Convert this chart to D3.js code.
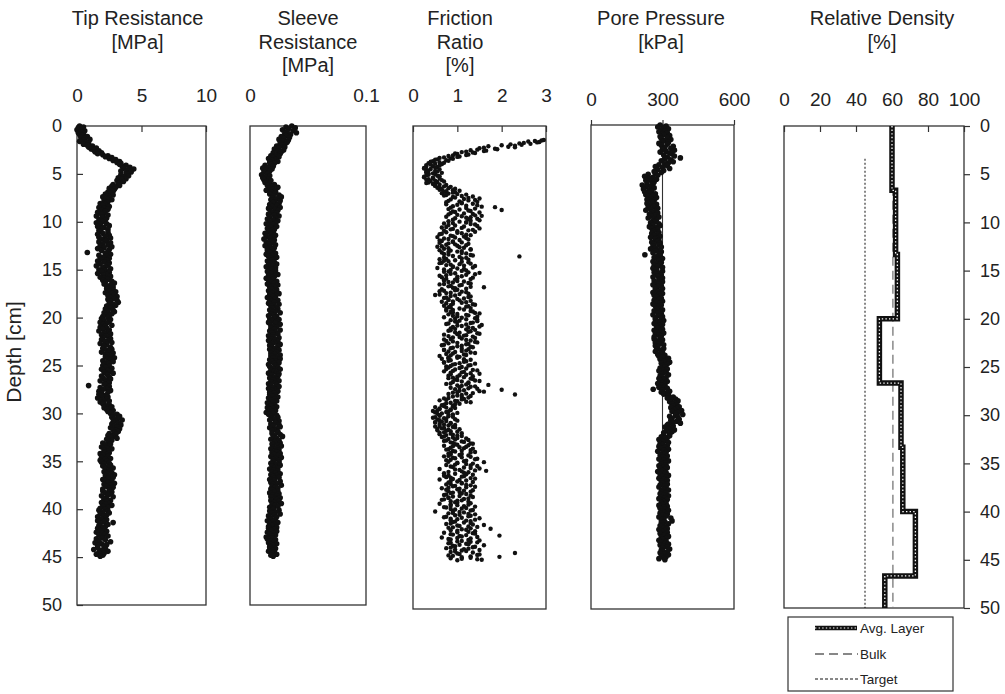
<!DOCTYPE html>
<html>
<head>
<meta charset="utf-8">
<script src="https://cdn.jsdelivr.net/npm/d3@7"></script>
<style>
  html, body { margin: 0; padding: 0; background: #fff; }
  svg { display: block; }
</style>
</head>
<body>
<svg id="chart" width="1005" height="694"></svg>
<script>
// ---- CPT readings (one row per cm of depth) ----
const depthStep = 0.1;      // tip, sleeve and pore readings
const frictionStep = 0.05;  // friction ratio readings

// Tip resistance [MPa]
const tipResistance = [
  0.2,0.5,0.1,0.4,0.0,0.6,0.3,0.1,0.5,0.2,
  0.4,0.8,0.3,0.6,1.0,0.5,0.2,0.7,0.9,0.5,
  0.8,1.2,0.9,1.5,1.1,1.3,1.7,1.4,1.9,1.6,
  2.0,2.4,2.2,2.7,2.5,3.0,2.8,3.3,3.1,3.4,
  3.3,3.8,3.5,4.1,3.6,4.4,3.9,3.4,4.2,3.8,
  3.9,3.4,4.0,3.6,3.2,3.8,3.5,3.1,3.6,3.3,
  3.2,2.8,3.3,2.7,3.0,2.5,2.9,2.6,2.8,2.4,
  2.6,2.2,2.8,2.4,2.0,2.5,2.3,2.7,2.1,2.4,
  2.3,1.8,2.2,2.0,2.5,1.7,2.1,2.4,1.9,2.2,
  1.6,2.1,1.9,2.4,1.5,2.0,2.3,1.7,2.2,1.8,
  2.0,1.5,2.3,1.8,2.5,1.6,2.1,1.9,2.4,1.7,
  1.8,2.4,2.0,1.6,2.5,2.2,1.7,2.6,1.9,2.3,
  2.2,1.7,2.6,2.0,2.4,1.8,2.7,2.1,1.6,2.5,
  1.9,2.4,0.8,2.2,2.6,1.7,2.3,2.0,2.5,1.8,
  2.3,1.6,2.1,2.5,1.8,2.4,1.5,2.2,2.0,2.6,
  1.7,2.2,1.9,2.5,1.6,2.3,2.0,2.6,1.8,2.1,
  2.4,2.0,2.7,2.2,2.9,2.1,2.6,2.3,2.8,2.5,
  2.3,2.8,2.5,3.0,2.2,2.7,2.9,2.4,3.1,2.6,
  2.9,2.4,3.1,2.6,3.2,2.5,2.8,3.0,2.3,2.7,
  2.6,2.2,2.8,2.4,2.9,2.1,2.7,2.3,2.5,2.0,
  2.4,1.9,2.6,2.1,2.5,1.8,2.3,2.0,2.7,2.2,
  1.8,2.3,2.0,2.5,1.7,2.4,2.1,2.6,1.9,2.2,
  2.5,2.0,2.6,1.9,2.4,2.2,2.7,1.8,2.3,2.1,
  2.1,2.6,2.0,2.7,2.3,2.5,1.9,2.8,2.2,2.4,
  2.7,2.2,2.9,2.4,2.6,2.0,2.8,2.3,2.5,2.1,
  2.0,2.5,2.2,2.7,1.9,2.4,2.6,2.1,2.8,2.3,
  2.4,1.9,2.5,2.0,2.6,2.2,1.8,2.3,2.5,2.1,
  2.2,0.9,2.5,1.8,2.3,2.0,2.6,1.7,2.4,1.9,
  1.7,2.2,1.9,2.4,1.6,2.3,2.0,2.5,1.8,2.1,
  2.0,2.5,2.2,2.7,2.1,2.6,2.3,2.8,2.4,2.6,
  2.6,3.1,2.8,3.3,2.7,3.2,2.9,3.5,3.0,2.8,
  3.2,2.7,3.4,2.9,3.1,2.6,3.3,2.8,3.0,3.2,
  2.9,2.5,3.0,2.4,2.8,2.6,3.1,2.3,2.7,2.5,
  2.4,2.0,2.6,2.2,2.5,1.9,2.3,2.7,2.1,2.4,
  2.1,2.5,1.8,2.3,2.0,2.4,1.9,2.6,2.2,1.8,
  2.3,1.9,2.5,2.1,2.6,2.0,2.4,2.8,2.2,2.5,
  2.6,2.1,2.7,2.3,2.9,2.2,2.5,2.8,2.4,2.0,
  2.2,2.7,2.4,2.9,2.1,2.6,2.3,2.8,2.5,2.0,
  2.5,2.0,2.7,2.2,2.6,2.4,1.9,2.8,2.3,2.1,
  2.1,2.6,2.3,1.9,2.5,2.2,2.7,2.0,2.4,1.8,
  2.2,1.7,2.4,2.0,2.5,1.8,2.3,2.1,1.6,2.2,
  1.9,2.3,1.6,2.1,2.8,1.8,2.4,1.7,2.2,2.0,
  1.6,2.1,1.8,2.3,1.5,2.0,2.2,1.7,2.4,1.9,
  2.0,1.5,2.2,1.7,2.6,1.4,1.9,2.3,1.6,2.1,
  1.6,2.2,1.3,1.9,2.4,1.7,2.1,1.5,2.0,1.8
];

// Sleeve resistance [MPa]
const sleeveResistance = [
  .036,.031,.039,.033,.028,.037,.032,.040,.030,.035,
  .031,.027,.034,.029,.025,.033,.028,.032,.026,.030,
  .028,.023,.030,.025,.021,.029,.024,.027,.020,.026,
  .023,.018,.025,.020,.016,.022,.019,.024,.017,.021,
  .018,.013,.020,.015,.011,.019,.014,.017,.012,.016,
  .015,.010,.017,.013,.011,.016,.012,.018,.014,.013,
  .017,.021,.015,.019,.024,.016,.020,.014,.022,.018,
  .022,.017,.025,.020,.027,.019,.023,.018,.026,.021,
  .020,.025,.017,.023,.019,.026,.016,.022,.024,.018,
  .019,.023,.016,.021,.025,.017,.022,.015,.020,.024,
  .017,.022,.014,.020,.016,.023,.018,.015,.021,.019,
  .016,.020,.013,.018,.022,.014,.019,.017,.012,.021,
  .018,.014,.020,.016,.022,.013,.017,.021,.015,.019,
  .015,.020,.017,.022,.014,.019,.016,.023,.018,.020,
  .019,.015,.021,.017,.023,.016,.020,.014,.022,.018,
  .017,.022,.015,.020,.018,.024,.016,.021,.019,.014,
  .020,.016,.023,.018,.021,.015,.024,.019,.017,.022,
  .018,.023,.016,.021,.019,.025,.017,.022,.020,.015,
  .022,.017,.024,.019,.021,.016,.025,.020,.018,.023,
  .019,.024,.017,.022,.020,.026,.018,.021,.016,.023,
  .021,.017,.025,.019,.023,.016,.022,.026,.018,.020,
  .023,.018,.021,.026,.017,.022,.019,.024,.020,.016,
  .020,.025,.018,.022,.016,.024,.021,.019,.026,.017,
  .024,.019,.022,.017,.025,.020,.023,.018,.021,.026,
  .018,.023,.020,.026,.017,.022,.019,.025,.021,.016,
  .022,.017,.024,.020,.026,.018,.021,.023,.016,.025,
  .019,.024,.021,.017,.023,.020,.025,.018,.022,.016,
  .023,.018,.025,.020,.016,.022,.019,.024,.017,.021,
  .017,.022,.019,.024,.016,.021,.018,.023,.020,.015,
  .016,.021,.018,.023,.015,.020,.017,.022,.019,.014,
  .020,.016,.023,.018,.024,.019,.021,.017,.025,.022,
  .022,.018,.025,.020,.026,.017,.023,.021,.019,.024,
  .024,.019,.026,.021,.028,.020,.023,.018,.025,.022,
  .021,.026,.019,.024,.027,.020,.023,.018,.025,.022,
  .023,.019,.026,.021,.024,.018,.027,.022,.020,.025,
  .020,.025,.018,.023,.026,.019,.022,.024,.017,.021,
  .024,.019,.022,.026,.018,.023,.020,.025,.021,.017,
  .021,.026,.018,.023,.020,.027,.019,.022,.024,.018,
  .019,.024,.021,.017,.025,.020,.023,.018,.026,.022,
  .023,.018,.025,.021,.027,.019,.022,.024,.017,.020,
  .020,.025,.017,.022,.019,.026,.021,.016,.023,.018,
  .018,.022,.015,.020,.024,.017,.021,.019,.016,.023,
  .016,.021,.018,.023,.015,.020,.017,.022,.019,.014,
  .019,.015,.022,.017,.021,.016,.023,.018,.020,.017,
  .017,.022,.018,.020,.016,.021,.019,.023,.018,.020
];

// Friction ratio [%] (readings above 3 % fall outside the plotted range)
const frictionRatio = [
  3.6,3.4,3.9,3.7,3.4,3.5,3.8,3.6,3.5,3.9, 3.7,3.4,3.3,3.6,3.9,3.5,3.6,3.8,3.4,3.7,
  3.4,3.6,3.2,3.3,3.5,3.1,3.1,3.4,3.3,2.95, 2.9,2.75,2.6,2.85,2.8,2.5,2.4,2.65,2.2,2.45,
  2.0,2.3,1.7,2.15,2.3,1.6,1.5,1.85,1.9,1.45, 1.3,1.65,1.6,1.2,1.1,1.35,1.4,0.95,1.0,1.25,
  1.2,0.9,0.8,1.05,1.0,0.7,0.6,0.85,0.9,0.55, 0.5,0.75,0.8,0.45,0.4,0.6,0.7,0.35,0.5,0.65,
  0.4,0.3,0.6,0.45,0.3,0.55,0.5,0.25,0.25,0.4, 0.6,0.3,0.35,0.5,0.55,0.3,0.3,0.65,0.45,0.35,
  0.5,0.35,0.3,0.55,0.6,0.25,0.25,0.45,0.45,0.6, 0.35,0.3,0.65,0.5,0.4,0.7,0.55,0.35,0.3,0.5,
  0.45,0.6,0.75,0.5,0.5,0.7,0.85,0.6,0.55,0.8, 0.95,0.65,0.6,0.9,1.05,0.75,0.7,0.95,0.9,0.65,
  0.8,1.0,1.2,0.75,0.7,1.1,1.35,0.9,0.95,1.25, 1.5,1.15,0.85,1.4,1.25,0.8,1.05,1.45,0.75,1.1,
  1.1,1.35,0.75,1.0,1.45,1.2,0.9,1.55,1.85,0.85, 1.2,1.4,0.8,1.05,2.0,1.25,1.3,0.9,0.95,1.5,
  0.85,1.15,1.35,0.8,1.0,1.4,1.55,1.1,0.75,1.3, 1.2,0.95,1.45,1.25,0.9,1.5,1.3,0.8,1.05,1.2,
  1.2,0.9,0.7,1.3,1.4,0.8,0.95,1.45,1.15,0.75, 0.65,1.1,1.5,0.9,0.85,1.35,1.25,0.7,1.0,1.4,
  0.75,1.0,1.1,0.65,0.6,1.2,1.3,0.85,0.9,1.15, 0.55,0.95,1.2,0.7,0.8,1.25,1.05,0.6,0.65,0.9,
  0.9,1.1,0.6,0.8,1.25,0.95,0.75,1.2,1.0,0.65, 0.55,1.05,1.15,0.8,0.7,1.3,1.3,0.6,0.85,1.1,
  1.0,0.8,0.65,1.1,1.2,0.7,0.8,1.3,1.35,0.9, 2.4,1.05,0.7,1.2,1.1,0.75,0.6,1.25,0.95,0.7,
  0.8,1.1,1.25,0.65,0.6,1.3,1.05,0.85,0.75,1.15, 1.4,0.9,0.9,1.35,0.55,1.0,1.15,0.7,0.85,1.2,
  1.1,0.8,0.7,1.25,1.5,0.95,0.85,1.4,1.2,0.75, 0.6,1.1,1.0,0.65,1.35,1.0,0.75,1.3,0.95,0.7,
  0.7,1.0,1.15,0.8,0.9,1.25,1.3,0.7,0.6,1.1, 1.05,0.85,0.8,1.3,1.6,0.9,0.95,1.2,0.65,1.0,
  0.95,0.7,0.6,1.1,1.2,0.85,0.75,1.25,1.05,0.6, 0.5,0.95,0.85,1.3,1.25,0.75,0.7,1.15,1.0,0.8,
  0.8,1.05,1.3,0.9,0.65,1.2,1.1,0.75,0.9,1.35, 1.4,0.85,0.7,1.25,1.2,0.8,0.85,1.3,1.05,0.75,
  1.15,0.9,0.75,1.3,1.35,0.85,0.9,1.4,1.5,1.0, 0.8,1.2,1.25,0.9,1.0,1.45,0.7,1.1,1.4,0.95,
  1.2,1.45,0.85,1.05,1.45,0.95,1.0,1.35,1.3,0.8, 0.75,1.2,1.55,1.0,1.1,1.5,0.9,1.25,1.35,0.85,
  0.95,1.2,1.4,0.85,0.8,1.3,1.25,0.95,1.05,1.45, 1.5,1.0,0.7,1.2,1.15,0.8,1.35,1.05,0.9,1.4,
  1.1,0.85,0.7,1.2,1.3,0.75,0.9,1.4,1.45,1.0, 0.8,1.25,1.2,0.7,0.65,1.1,1.0,1.3,1.35,0.9,
  0.85,1.1,1.25,0.7,0.7,1.2,1.1,0.8,0.95,1.3, 1.4,0.9,0.75,1.15,1.2,0.85,0.6,1.0,1.05,0.8,
  1.0,0.8,0.65,1.15,1.3,0.85,0.8,1.2,1.15,0.7, 0.7,1.05,1.4,0.95,0.9,1.3,1.25,0.85,0.75,1.1,
  0.8,1.05,1.2,0.75,0.95,1.35,1.45,0.9,0.7,1.15, 1.1,0.85,1.3,1.5,0.85,1.2,1.05,0.8,1.35,1.0,
  1.15,0.9,0.8,1.3,1.35,0.95,1.0,1.4,1.5,1.1, 0.9,1.25,1.25,0.85,0.75,1.2,1.7,1.0,1.1,1.4,
  1.3,1.05,0.85,1.25,1.45,0.95,2.0,1.15,1.05,1.5, 1.6,1.0,0.9,1.35,1.2,0.8,2.3,1.1,1.0,1.3,
  0.9,1.1,1.25,0.8,0.7,1.15,1.1,0.75,0.6,0.95, 1.0,1.2,1.3,0.85,0.75,1.05,0.95,0.7,0.65,0.9,
  0.7,0.9,0.5,0.75,0.95,0.6,0.6,0.85,0.85,0.55, 0.45,0.8,0.75,0.5,1.0,0.65,0.55,0.9,0.8,0.6,
  0.6,0.8,0.9,0.5,0.45,0.7,0.75,0.95,0.55,0.6, 1.0,0.75,0.65,0.5,0.5,0.85,0.85,0.6,0.7,0.95,
  0.8,0.6,0.5,0.9,0.95,0.7,0.65,0.55,1.05,0.8, 0.55,0.75,0.85,1.0,0.7,0.6,1.1,0.85,0.6,0.9,
  0.75,1.0,1.1,0.7,0.65,0.9,1.0,1.2,0.8,0.95, 1.25,0.75,0.7,1.1,1.15,0.85,0.9,1.3,1.35,0.95,
  1.0,1.25,0.7,0.9,1.2,1.05,0.85,1.15,1.35,0.8, 0.75,1.3,1.1,0.9,0.95,1.4,1.3,0.85,0.8,1.1,
  0.85,1.05,1.25,0.8,0.7,1.3,1.1,0.9,0.95,1.45, 1.4,0.85,0.75,1.2,1.15,0.8,1.6,1.0,1.0,1.35,
  1.2,0.95,0.75,1.3,1.45,0.85,0.9,1.15,1.3,1.5, 0.6,0.95,1.05,1.4,1.65,1.1,0.8,1.25,1.15,0.7,
  0.95,1.2,1.35,0.8,0.7,1.15,1.1,0.75,0.85,1.3, 1.4,0.9,0.6,1.05,1.2,0.85,1.0,1.35,0.8,1.1,
  1.1,0.85,0.75,1.2,1.3,0.95,0.9,1.4,1.2,0.8, 0.65,1.05,1.0,0.75,1.35,1.15,0.8,1.3,1.05,0.9,
  0.85,1.1,1.2,0.75,0.7,1.3,1.05,0.9,1.35,0.8, 0.8,1.25,1.15,0.7,0.65,1.1,1.0,0.85,1.25,0.95,
  1.0,1.3,0.6,0.85,1.25,1.0,0.85,1.15,1.4,0.7, 0.75,1.2,1.1,0.85,0.95,1.35,1.3,0.9,0.5,1.05,
  1.15,0.9,0.8,1.25,1.4,1.05,0.95,1.3,1.25,0.75, 0.7,1.1,1.5,0.85,1.0,1.4,0.85,1.2,1.3,0.95,
  0.9,1.15,1.3,0.85,0.75,1.35,1.6,1.0,1.05,1.25, 1.45,0.9,0.8,1.3,1.75,1.1,1.2,0.85,1.0,1.4,
  1.25,1.0,0.7,1.35,1.4,0.85,0.9,1.2,1.95,1.05, 1.1,1.45,0.65,1.0,1.3,0.8,0.85,1.25,1.5,1.1,
  1.0,1.3,1.45,0.85,0.8,1.2,1.25,1.05,1.6,0.9, 0.95,1.4,1.35,0.85,0.75,1.25,1.15,0.95,1.5,1.1,
  1.2,0.95,0.85,1.35,2.3,1.0,1.05,1.5,1.45,0.8, 0.9,1.3,1.95,1.1,1.3,0.85,1.1,1.45,1.55,1.0
];

// Pore pressure [kPa]
const porePressure = [
  290,315,280,305,325,295,310,285,320,300,
  305,330,290,320,295,335,310,300,325,285,
  320,295,345,310,335,300,350,315,290,330,
  340,305,350,320,375,310,335,295,345,325,
  310,285,320,270,300,330,280,305,265,295,
  270,240,280,225,260,245,275,230,255,265,
  235,260,215,250,230,265,220,245,255,225,
  245,270,230,260,240,275,250,235,265,255,
  260,235,275,245,265,240,280,250,230,270,
  255,280,245,270,250,285,240,265,275,260,
  270,250,285,260,290,245,275,255,280,265,
  260,285,255,280,265,290,250,275,270,285,
  280,255,290,265,285,260,295,270,250,280,
  270,295,260,285,226,290,275,265,300,280,
  285,260,295,270,290,265,280,300,260,275,
  275,300,265,290,270,295,280,260,300,285,
  290,265,300,275,285,260,295,280,270,300,
  270,295,280,260,300,285,265,290,275,295,
  285,265,300,275,290,260,295,270,285,280,
  275,300,265,290,280,295,260,285,300,270,
  295,270,305,280,290,265,300,285,275,295,
  280,300,265,290,275,305,270,285,295,265,
  290,265,300,275,295,270,285,305,270,280,
  280,305,275,295,270,300,290,280,310,285,
  300,325,290,315,305,330,295,320,310,300,
  310,290,320,300,285,315,305,295,325,290,
  295,315,285,305,290,320,300,280,310,295,
  310,285,320,261,300,330,295,315,305,325,
  325,345,320,355,335,365,330,350,340,360,
  345,370,335,360,350,380,340,365,355,385,
  355,330,365,340,370,335,360,345,375,325,
  320,345,310,335,325,350,315,340,305,330,
  305,330,295,320,310,285,315,300,325,290,
  300,320,285,310,295,325,305,280,315,300,
  310,290,320,300,315,285,305,325,295,310,
  295,315,285,305,320,290,310,300,280,315,
  310,290,325,300,315,285,305,320,295,310,
  300,320,290,310,285,315,305,325,295,300,
  315,290,305,325,295,310,285,320,300,305,
  295,315,300,285,320,305,290,310,325,300,
  305,290,320,300,315,285,335,305,295,340,
  310,295,325,300,290,315,305,320,285,310,
  300,320,290,310,305,325,295,315,300,285,
  315,295,310,325,290,305,320,300,330,295,
  300,320,290,310,325,295,315,305,285,310
];

// Pore pressure reference line [kPa] and the depth it is drawn down to [cm]
const poreReference = 300;
const poreReferenceEnd = 44.9;

// Relative density by layer [%]
const layerTops = [0, 6.67, 13.33, 20, 26.67, 33.33, 40, 46.67];
const layerBottom = 50;
const layerDensity = [60, 62, 63, 53, 65, 66, 73, 56];
const bulkDensity = 60.5;
const targetDensity = 45;
const referenceStartDepth = 3.4;

// Tick values
const depthTicks = [0, 5, 10, 15, 20, 25, 30, 35, 40, 45, 50];
const tipTicks = [0, 5, 10];
const sleeveTicks = [0, 0.1];
const frictionTicks = [0, 1, 2, 3];
const poreTicks = [0, 300, 600];
const densityTicks = [0, 20, 40, 60, 80, 100];

const legendLabels = ["Avg. Layer", "Bulk", "Target"];

// ---- drawing ----
const FONT = '"Liberation Sans", Arial, Helvetica, sans-serif';
const INK = "#222";
const FRAME = "#333";

const svg = d3.select("#chart");

const panels = [
  { title: ["Tip Resistance", "[MPa]"], titleX: 137.5, values: tipResistance, step: depthStep, r: 2.8,
    domain: [0, 10], ticks: tipTicks, fmt: d3.format("d"),
    x0: 77, x1: 206, top: 126, bottom: 605, tickSize: -6, pad: 24 },
  { title: ["Sleeve", "Resistance", "[MPa]"], titleX: 308, values: sleeveResistance, step: depthStep, r: 2.8,
    domain: [0, 0.1], ticks: sleeveTicks, fmt: d => d === 0 ? "0" : String(d),
    x0: 250, x1: 366, top: 126, bottom: 605, tickSize: 0, pad: 24 },
  { title: ["Friction", "Ratio", "[%]"], titleX: 460, values: frictionRatio, step: frictionStep, r: 2.2,
    domain: [0, 3], ticks: frictionTicks, fmt: d3.format("d"),
    x0: 413, x1: 546, top: 126, bottom: 609, tickSize: -6, pad: 24 },
  { title: ["Pore Pressure", "[kPa]"], titleX: 661, values: porePressure, step: depthStep, r: 2.8,
    domain: [0, 600], ticks: poreTicks, fmt: d3.format("d"),
    x0: 591, x1: 734, top: 125, bottom: 609, tickSize: 5, pad: 14, reference: true }
];

function drawTitle(lines, cx) {
  const t = svg.append("text")
    .attr("text-anchor", "middle")
    .attr("font-family", FONT)
    .attr("font-size", 20)
    .attr("fill", INK);
  lines.forEach((line, i) => {
    t.append("tspan").attr("x", cx).attr("y", 25 + i * 23.5).text(line);
  });
}

function styleAxis(g, size) {
  g.attr("font-family", FONT).attr("font-size", size).attr("color", FRAME);
  g.select(".domain").remove();
  g.selectAll(".tick line").attr("stroke-width", 1.2);
  g.selectAll(".tick text").attr("fill", INK);
}

panels.forEach((p, idx) => {
  const x = d3.scaleLinear().domain(p.domain).range([p.x0, p.x1]);
  const y = d3.scaleLinear().domain([0, 50]).range([p.top, p.bottom]);

  drawTitle(p.title, p.titleX);

  // frame
  svg.append("rect")
    .attr("x", p.x0).attr("y", p.top)
    .attr("width", p.x1 - p.x0).attr("height", p.bottom - p.top)
    .attr("fill", "none").attr("stroke", FRAME).attr("stroke-width", 1.3);

  // top value axis
  const top = svg.append("g")
    .attr("transform", `translate(0,${p.top})`)
    .call(d3.axisTop(x).tickValues(p.ticks).tickFormat(p.fmt)
      .tickSize(p.tickSize).tickPadding(p.pad));
  styleAxis(top, 19);

  // depth axis on the first panel
  if (idx === 0) {
    const left = svg.append("g")
      .attr("transform", `translate(${p.x0},0)`)
      .call(d3.axisLeft(y).tickValues(depthTicks).tickSize(-6).tickPadding(15));
    styleAxis(left, 18);
  }

  if (p.reference) {
    svg.append("line")
      .attr("x1", x(poreReference)).attr("x2", x(poreReference))
      .attr("y1", y(0)).attr("y2", y(poreReferenceEnd))
      .attr("stroke", FRAME).attr("stroke-width", 1.1);
  }

  const pts = p.values
    .map((v, i) => ({ d: i * p.step, v }))
    .filter(o => o.v >= p.domain[0] && o.v <= p.domain[1]);

  svg.append("g")
    .selectAll("circle")
    .data(pts)
    .join("circle")
    .attr("cx", o => x(o.v))
    .attr("cy", o => y(o.d))
    .attr("r", p.r)
    .attr("fill", "#111");
});

// ---- relative density panel ----
{
  const x0 = 784, x1 = 964, topY = 126, bottomY = 608;
  const x = d3.scaleLinear().domain([0, 100]).range([x0, x1]);
  const y = d3.scaleLinear().domain([0, 50]).range([topY, bottomY]);

  drawTitle(["Relative Density", "[%]"], 882);

  svg.append("rect")
    .attr("x", x0).attr("y", topY)
    .attr("width", x1 - x0).attr("height", bottomY - topY)
    .attr("fill", "none").attr("stroke", FRAME).attr("stroke-width", 1.3);

  const top = svg.append("g")
    .attr("transform", `translate(0,${topY})`)
    .call(d3.axisTop(x).tickValues(densityTicks).tickSize(-6).tickPadding(20));
  styleAxis(top, 19);

  const right = svg.append("g")
    .attr("transform", `translate(${x1},0)`)
    .call(d3.axisRight(y).tickValues(depthTicks).tickSize(6).tickPadding(10));
  styleAxis(right, 18);

  // target and bulk densities
  svg.append("line")
    .attr("x1", x(targetDensity)).attr("x2", x(targetDensity))
    .attr("y1", y(referenceStartDepth)).attr("y2", y(50))
    .attr("stroke", "#111").attr("stroke-width", 1).attr("stroke-dasharray", "2,2");
  svg.append("line")
    .attr("x1", x(bulkDensity)).attr("x2", x(bulkDensity))
    .attr("y1", y(referenceStartDepth)).attr("y2", y(50))
    .attr("stroke", "#777").attr("stroke-width", 1.3).attr("stroke-dasharray", "9,5");

  // averaged layers as a stepped profile
  const steps = [];
  layerDensity.forEach((v, i) => {
    const bottom = i + 1 < layerTops.length ? layerTops[i + 1] : layerBottom;
    steps.push([v, layerTops[i]], [v, bottom]);
  });
  const line = d3.line().x(s => x(s[0])).y(s => y(s[1]));
  svg.append("path").attr("d", line(steps))
    .attr("fill", "none").attr("stroke", "#111").attr("stroke-width", 5.5);
  svg.append("path").attr("d", line(steps))
    .attr("fill", "none").attr("stroke", "#fff").attr("stroke-width", 1.3)
    .attr("stroke-dasharray", "1.4,2.2");

  // legend
  const lg = svg.append("g");
  lg.append("rect").attr("x", 788).attr("y", 617).attr("width", 165).attr("height", 74)
    .attr("fill", "#fff").attr("stroke", FRAME).attr("stroke-width", 1.2);
  const rows = [628, 654, 679];
  lg.append("line").attr("x1", 815).attr("x2", 857).attr("y1", rows[0]).attr("y2", rows[0])
    .attr("stroke", "#111").attr("stroke-width", 4.5);
  lg.append("line").attr("x1", 815).attr("x2", 857).attr("y1", rows[0]).attr("y2", rows[0])
    .attr("stroke", "#fff").attr("stroke-width", 1.1).attr("stroke-dasharray", "1.4,2.2");
  lg.append("line").attr("x1", 815).attr("x2", 858).attr("y1", rows[1]).attr("y2", rows[1])
    .attr("stroke", "#111").attr("stroke-width", 1.2).attr("stroke-dasharray", "9,5");
  lg.append("line").attr("x1", 815).attr("x2", 858).attr("y1", rows[2]).attr("y2", rows[2])
    .attr("stroke", "#111").attr("stroke-width", 1).attr("stroke-dasharray", "3,2");
  legendLabels.forEach((t, i) => {
    lg.append("text").attr("x", 860).attr("y", rows[i]).attr("dy", "0.35em")
      .attr("font-family", FONT).attr("font-size", 13.5).attr("fill", INK).text(t);
  });
}

// depth axis title
svg.append("text")
  .attr("transform", "translate(21,352) rotate(-90)")
  .attr("text-anchor", "middle")
  .attr("font-family", FONT).attr("font-size", 21).attr("fill", INK)
  .text("Depth [cm]");
</script>
</body>
</html>
